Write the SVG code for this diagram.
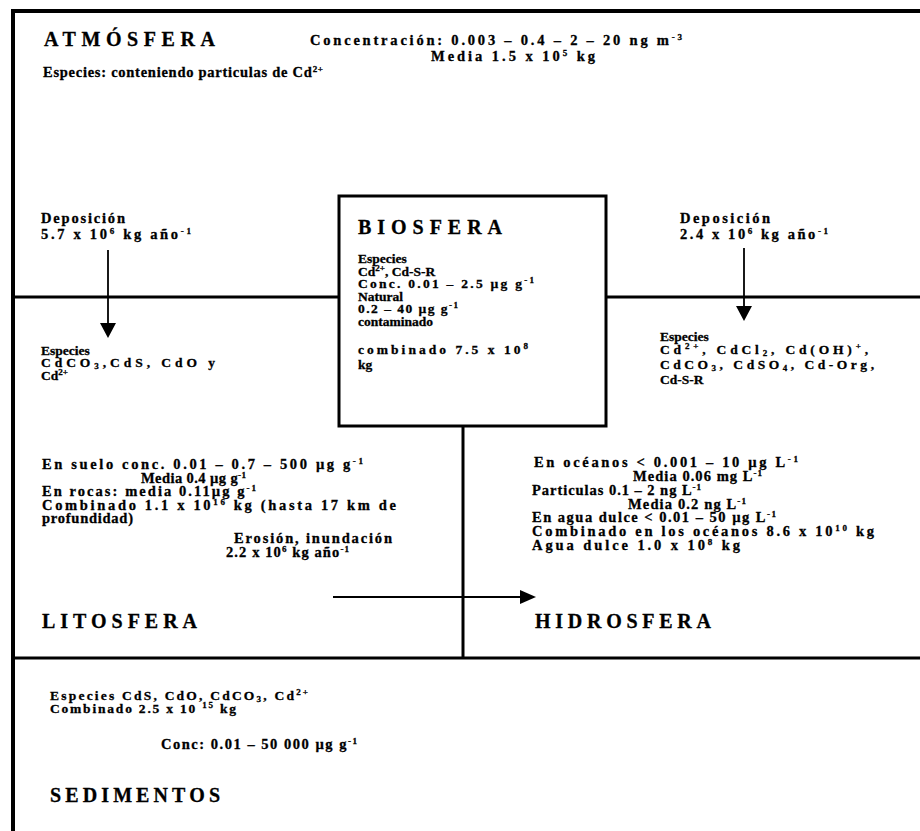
<svg xmlns="http://www.w3.org/2000/svg" width="920" height="831" viewBox="0 0 920 831">
<style>
text{font-family:"Liberation Serif","Times New Roman",serif;font-weight:bold;fill:#000;stroke:#000;stroke-width:0.3}
.t{font-size:14.5px}
.c{font-size:13.5px}
.h{font-size:20px}
.s{font-size:9px}
.frame{stroke:#000;fill:none;stroke-width:3}
.border{stroke:#000;fill:none;stroke-width:4}
.arr{stroke:#000;stroke-width:1.8;fill:none}
.head{fill:#000}
</style>
<rect width="920" height="831" fill="#fff"/>
<g id="frame">
<line class="border" x1="11" y1="11" x2="920" y2="11"/>
<line class="border" x1="13" y1="9" x2="13" y2="831"/>
<line class="frame" x1="13" y1="297" x2="339" y2="297"/>
<line class="frame" x1="606" y1="297" x2="920" y2="297"/>
<line class="frame" x1="463" y1="426" x2="463" y2="658"/>
<line class="frame" x1="13" y1="658" x2="920" y2="658"/>
</g>
<g id="atmosfera">
<text class="h" x="44" y="46" textLength="171">ATMÓSFERA</text>
<text class="t" x="310" y="45" textLength="372">Concentración: 0.003 – 0.4 – 2 – 20 ng m<tspan class="s" dy="-5">-3</tspan></text>
<text class="t" x="431" y="61" textLength="164">Media 1.5 x 10<tspan class="s" dy="-5">5</tspan><tspan dy="5"> kg</tspan></text>
<text class="t" x="43" y="77" textLength="280">Especies: conteniendo particulas de Cd<tspan class="s" dy="-5">2+</tspan></text>
<text class="t" x="41" y="223" textLength="84">Deposición</text>
<text class="t" x="41" y="239" textLength="150">5.7 x 10<tspan class="s" dy="-5">6</tspan><tspan dy="5"> kg año</tspan><tspan class="s" dy="-5">-1</tspan></text>
<text class="t" x="680" y="223" textLength="90">Deposición</text>
<text class="t" x="680" y="239" textLength="148">2.4 x 10<tspan class="s" dy="-5">6</tspan><tspan dy="5"> kg año</tspan><tspan class="s" dy="-5">-1</tspan></text>
</g>
<g id="biosfera">
<rect x="339" y="196" width="267" height="230" fill="none" stroke="#000" stroke-width="3"/>
<text class="h" x="358" y="234" textLength="144">BIOSFERA</text>
<text class="c" x="358" y="263">Especies</text>
<text class="c" x="358" y="275.5">Cd<tspan class="s" dy="-5">2+</tspan><tspan dy="5">, Cd-S-R</tspan></text>
<text class="c" x="358" y="288" textLength="176">Conc. 0.01 – 2.5 µg g<tspan class="s" dy="-5">-1</tspan></text>
<text class="c" x="358" y="300.5">Natural</text>
<text class="c" x="358" y="313" textLength="100">0.2 – 40 µg g<tspan class="s" dy="-5">-1</tspan></text>
<text class="c" x="358" y="325.5">contaminado</text>
<text class="c" x="358" y="354" textLength="170">combinado 7.5 x 10<tspan class="s" dy="-5">8</tspan></text>
<text class="c" x="358" y="369">kg</text>
</g>
<g id="litosfera">
<text class="c" x="41" y="355">Especies</text>
<text class="c" x="41" y="367" textLength="174">CdCO<tspan class="s" dy="2">3</tspan><tspan dy="-2">,CdS, CdO y</tspan></text>
<text class="c" x="41" y="379.5">Cd<tspan class="s" dy="-5">2+</tspan></text>
<text class="t" x="42" y="469" textLength="321">En suelo conc. 0.01 – 0.7 – 500 µg g<tspan class="s" dy="-5">-1</tspan></text>
<text class="t" x="141" y="483" textLength="105">Media 0.4 µg g<tspan class="s" dy="-5">-1</tspan></text>
<text class="t" x="42" y="496" textLength="214">En rocas: media 0.11µg g<tspan class="s" dy="-5">-1</tspan></text>
<text class="t" x="42" y="510" textLength="354">Combinado 1.1 x 10<tspan class="s" dy="-5">16</tspan><tspan dy="5"> kg (hasta 17 km de</tspan></text>
<text class="t" x="42" y="523" textLength="91">profundidad)</text>
<text class="t" x="234" y="543" textLength="158">Erosión, inundación</text>
<text class="t" x="226" y="557" textLength="123">2.2 x 10<tspan class="s" dy="-5">6</tspan><tspan dy="5"> kg año</tspan><tspan class="s" dy="-5">-1</tspan></text>
<text class="h" x="42" y="628" textLength="155">LITOSFERA</text>
</g>
<g id="hidrosfera">
<text class="c" x="660" y="341">Especies</text>
<text class="c" x="660" y="354" textLength="208">Cd<tspan class="s" dy="-5">2+</tspan><tspan dy="5">, CdCl</tspan><tspan class="s" dy="2">2</tspan><tspan dy="-2">, Cd(OH)</tspan><tspan class="s" dy="-5">+</tspan><tspan dy="5">,</tspan></text>
<text class="c" x="660" y="369" textLength="214">CdCO<tspan class="s" dy="2">3</tspan><tspan dy="-2">, CdSO</tspan><tspan class="s" dy="2">4</tspan><tspan dy="-2">, Cd-Org,</tspan></text>
<text class="c" x="660" y="384">Cd-S-R</text>
<text class="t" x="534" y="467" textLength="264">En océanos &lt; 0.001 – 10 µg L<tspan class="s" dy="-5">-1</tspan></text>
<text class="t" x="633" y="481" textLength="129">Media 0.06 mg L<tspan class="s" dy="-5">-1</tspan></text>
<text class="t" x="532" y="495" textLength="169">Particulas 0.1 – 2 ng L<tspan class="s" dy="-5">-1</tspan></text>
<text class="t" x="628" y="509" textLength="118">Media 0.2 ng L<tspan class="s" dy="-5">-1</tspan></text>
<text class="t" x="532" y="522" textLength="244">En agua dulce &lt; 0.01 – 50 µg L<tspan class="s" dy="-5">-1</tspan></text>
<text class="t" x="532" y="536" textLength="342">Combinado en los océanos 8.6 x 10<tspan class="s" dy="-5">10</tspan><tspan dy="5"> kg</tspan></text>
<text class="t" x="532" y="550" textLength="208">Agua dulce 1.0 x 10<tspan class="s" dy="-5">8</tspan><tspan dy="5"> kg</tspan></text>
<text class="h" x="535" y="628" textLength="176">HIDROSFERA</text>
</g>
<g id="sedimentos">
<text class="c" x="50" y="700" textLength="258">Especies CdS, CdO, CdCO<tspan class="s" dy="2">3</tspan><tspan dy="-2">, Cd</tspan><tspan class="s" dy="-5">2+</tspan></text>
<text class="c" x="50" y="713" textLength="186">Combinado 2.5 x 10 <tspan class="s" dy="-5">15</tspan><tspan dy="5"> kg</tspan></text>
<text class="t" x="161" y="749" textLength="196">Conc: 0.01 – 50 000 µg g<tspan class="s" dy="-5">-1</tspan></text>
<text class="h" x="50" y="802" textLength="170">SEDIMENTOS</text>
</g>
<g id="connectors">
<line class="arr" x1="108" y1="250" x2="108" y2="324"/>
<polygon class="head" points="100,323 116,323 108,338"/>
<line class="arr" x1="744" y1="248" x2="744" y2="308"/>
<polygon class="head" points="736,306 752,306 744,321"/>
<line class="arr" x1="333" y1="597" x2="522" y2="597"/>
<polygon class="head" points="520,590 520,604 536,597"/>
</g>
</svg>
